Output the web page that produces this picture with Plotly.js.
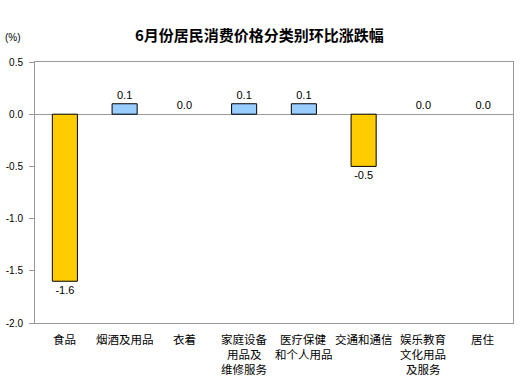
<!DOCTYPE html>
<html><head><meta charset="utf-8">
<script src="https://cdn.plot.ly/plotly-3.0.1.min.js"></script>
<style>body{margin:0;background:#fff}#chart{width:522px;height:378px}</style>
</head><body><div id="chart"></div>
<script>
var categories = ["食品","烟酒及用品","衣着","家庭设备<br>用品及<br>维修服务","医疗保健<br>和个人用品","交通和通信","娱乐教育<br>文化用品<br>及服务","居住"];
var values = [-1.6, 0.1, 0.0, 0.1, 0.1, -0.5, 0.0, 0.0];
var labels = ["-1.6","0.1","0.0","0.1","0.1","-0.5","0.0","0.0"];
var yTicks = [0.5, 0.0, -0.5, -1.0, -1.5, -2.0];
var yTickText = ["0.5","0.0","-0.5","-1.0","-1.5","-2.0"];
var colors = values.map(function(v){ return v < 0 ? "#FFCC00" : "#99CCFF"; });
var lineWidths = values.map(function(v){ return v === 0 ? 0 : 1; });

var trace = {
  type: "bar", x: categories, y: values, text: labels,
  textposition: "outside", cliponaxis: false,
  textfont: {family: "Liberation Sans, Arial", size: 11, color: "#000"},
  marker: {color: colors, line: {color: "#000", width: lineWidths}},
  width: 0.42, hoverinfo: "none"
};

var annotations = [{text: "(%)", xref: "paper", yref: "paper", x: -0.045, y: 1.095, xanchor: "center", yanchor: "middle",
                 showarrow: false, font: {family: "Liberation Sans, Arial", size: 10, color: "#000"}}];
categories.forEach(function(c){
  c.split("<br>").forEach(function(line, i){
    annotations.push({text: line, x: c, xref: "x", yref: "paper", y: 0, yanchor: "middle", xanchor: "center",
      yshift: -16 - 15 * i, showarrow: false,
      font: {family: "Noto Sans CJK SC", size: 11.5, color: "#000"}});
  });
});

var layout = {
  width: 522, height: 378,
  margin: {l: 35, r: 9, t: 62, b: 55},
  paper_bgcolor: "#fff", plot_bgcolor: "#fff",
  showlegend: false,
  title: {text: "<b>6月份居民消费价格分类别环比涨跌幅</b>", x: 0.497, xanchor: "center", y: 0.905, yanchor: "middle",
          font: {family: "Noto Sans CJK SC", size: 15, color: "#000"}},
  xaxis: {type: "category", showgrid: false, zeroline: false, showline: true, linecolor: "#999", mirror: true,
          ticks: "", showticklabels: false, automargin: false},
  yaxis: {range: [-2.0, 0.5], tickvals: yTicks, ticktext: yTickText, showgrid: false,
          zeroline: true, zerolinecolor: "#999", zerolinewidth: 1,
          showline: true, linecolor: "#999", mirror: true, ticks: "outside", ticklen: 5, tickcolor: "#999",
          ticklabelstandoff: 4,
          tickfont: {family: "Liberation Sans, Arial", size: 10, color: "#000"}, automargin: false},
  annotations: annotations
};
Plotly.newPlot("chart", [trace], layout, {staticPlot: true, displayModeBar: false});
</script></body></html>
